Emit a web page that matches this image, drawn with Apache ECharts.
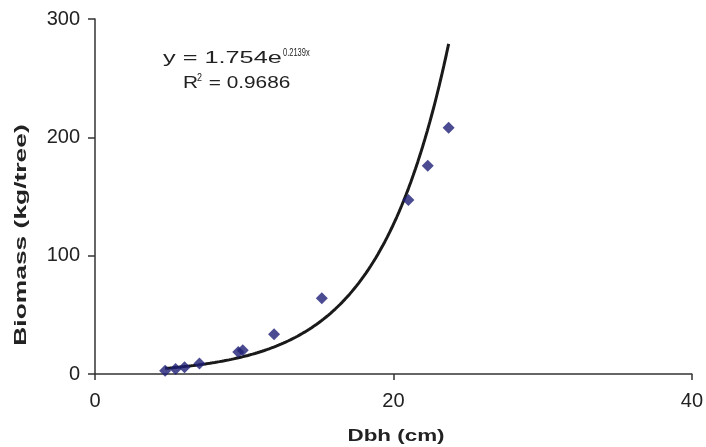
<!DOCTYPE html>
<html>
<head>
<meta charset="utf-8">
<script src="https://cdn.jsdelivr.net/npm/echarts@6/dist/echarts.min.js"></script>
<style>
  html, body { margin: 0; padding: 0; background: #fff; }
  #chart { width: 706px; height: 447px; }
</style>
</head>
<body>
<div id="chart"></div>
<script>
// Measured tree diameter at breast height (cm) and above-ground biomass (kg/tree)
const dbh = [4.7, 5.4, 6.0, 7.0, 9.6, 9.9, 12.0, 15.2, 21.0, 22.3, 23.7];
const biomass = [2.8, 4.2, 5.8, 8.8, 18.5, 20, 33.5, 64, 147, 176, 208];

// Exponential trendline coefficients: y = a * e^(b x)
const fitA = 1.754;
const fitB = 0.2139;
const fitR2 = 0.9686;

// Axis tick values
const xTicks = [0, 20, 40];
const yTicks = [0, 100, 200, 300];

// Trendline sampled across the observed diameter range
const xMin = Math.min(...dbh), xMax = Math.max(...dbh);
const trend = [];
for (let i = 0; i <= 120; i++) {
  const x = xMin + (xMax - xMin) * i / 120;
  trend.push([x, fitA * Math.exp(fitB * x)]);
}

const font = '"Liberation Sans", Arial, sans-serif';
const ink = '#222';

function label(text, x, y, size, sx) {
  return {
    type: 'text', x: x, y: y, scaleX: sx,
    style: { text: text, font: size + 'px ' + font, fill: ink, align: 'left', verticalAlign: 'middle' }
  };
}

const chart = echarts.init(document.getElementById('chart'), null, { renderer: 'canvas' });

chart.setOption({
  backgroundColor: '#fff',
  animation: false,
  grid: { left: 95, right: 11, top: 19, bottom: 73, containLabel: false },
  xAxis: {
    type: 'value',
    min: xTicks[0], max: xTicks[xTicks.length - 1], interval: 20,
    axisLine: { lineStyle: { color: '#333', width: 1.5 } },
    axisTick: { show: true, length: 6, lineStyle: { color: '#333', width: 1.5 } },
    axisLabel: { fontFamily: font, fontSize: 20, color: ink, margin: 17 },
    splitLine: { show: false }
  },
  yAxis: {
    type: 'value',
    min: yTicks[0], max: yTicks[yTicks.length - 1], interval: 100,
    axisLine: { show: true, lineStyle: { color: '#333', width: 1.5 } },
    axisTick: { show: true, length: 7, lineStyle: { color: '#333', width: 1.5 } },
    axisLabel: { fontFamily: font, fontSize: 20, color: ink, margin: 15 },
    splitLine: { show: false }
  },
  graphic: [
    {
      // vertical axis title, stretched along its reading direction
      type: 'text',
      x: 22, y: 235,
      rotation: Math.PI / 2,
      scaleX: 1.65,
      style: {
        text: 'Biomass (kg/tree)',
        font: 'bold 16px ' + font,
        fill: ink,
        align: 'center',
        verticalAlign: 'middle'
      }
    },
    {
      // horizontal axis title
      type: 'text',
      x: 396, y: 437,
      scaleX: 1.4,
      style: {
        text: 'Dbh (cm)',
        font: 'bold 16px ' + font,
        fill: ink,
        align: 'center',
        verticalAlign: 'middle'
      }
    },
    // trendline equation
    label('y = ' + fitA.toFixed(3) + 'e', 163, 59, 16, 1.58),
    label(fitB.toFixed(4) + 'x', 283, 53, 10, 0.75),
    // coefficient of determination
    label('R', 183, 84, 16, 1.3),
    label('2', 197, 78, 10, 0.9),
    label(' = ' + fitR2.toFixed(4), 203, 84, 16, 1.3)
  ],
  series: [
    {
      type: 'line',
      data: trend,
      showSymbol: false,
      smooth: false,
      lineStyle: { color: '#1a1a1a', width: 3 },
      z: 2
    },
    {
      type: 'scatter',
      data: dbh.map((x, i) => [x, biomass[i]]),
      symbol: 'diamond',
      symbolSize: [12, 12],
      itemStyle: { color: '#1e1e76' },
      z: 3
    }
  ]
});
</script>
</body>
</html>
